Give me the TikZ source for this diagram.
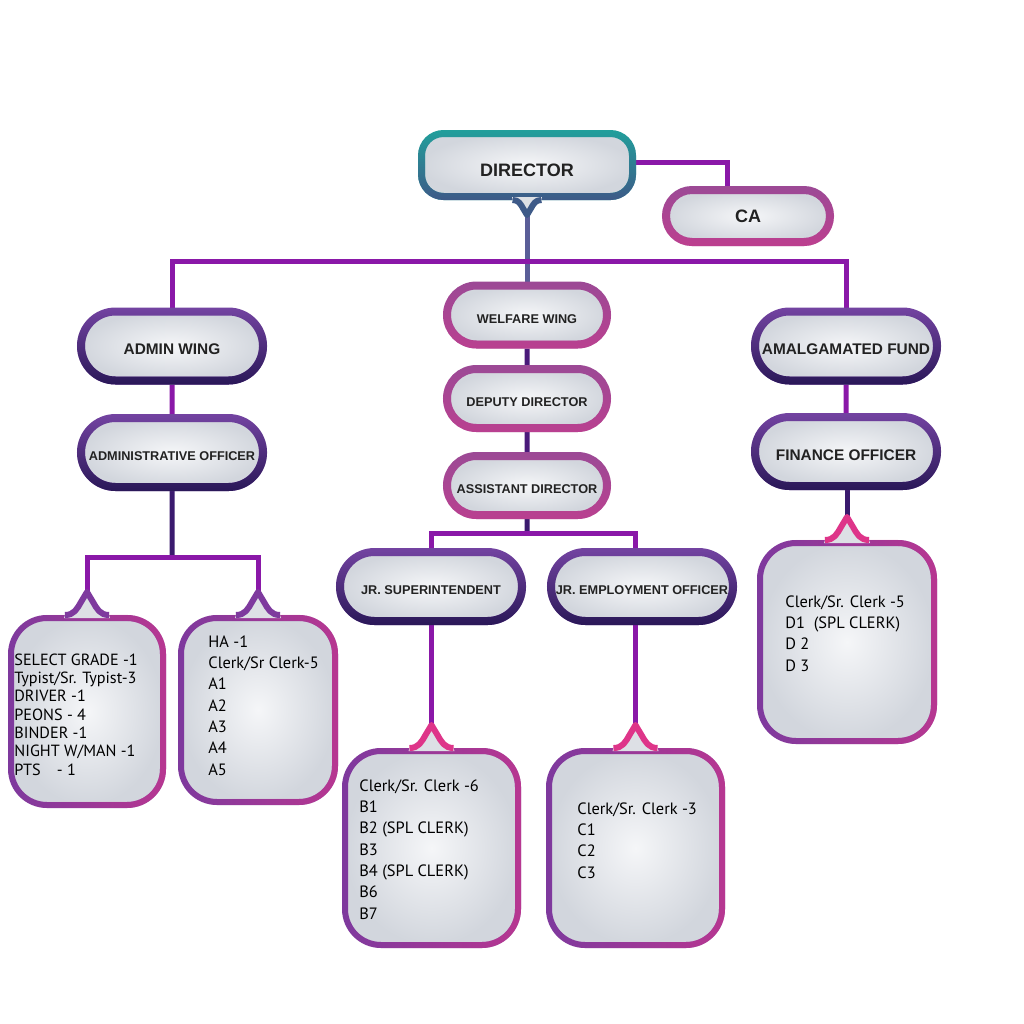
\documentclass[tikz,border=0pt]{standalone}
\usepackage{fontspec}
\setmainfont{Liberation Sans}
\newfontfamily\listfont{PT Sans}
\usetikzlibrary{positioning,calc,shapes.misc,shadows,fadings,backgrounds}

\definecolor{boxin}{HTML}{F5F6F8}
\definecolor{boxout}{HTML}{D2D6DD}
\definecolor{tipfill}{HTML}{DDE0E5}
\definecolor{tealtop}{HTML}{22A09C}
\definecolor{slatebot}{HTML}{3E5A88}
\definecolor{wingtop}{HTML}{7444A2}
\definecolor{wingbot}{HTML}{2A1858}
\definecolor{mauve}{HTML}{9C4A96}
\definecolor{pinkedge}{HTML}{DE3589}
\definecolor{memoc}{HTML}{7E3A9E}
\definecolor{linkp}{HTML}{8A18A8}
\definecolor{linkn}{HTML}{3A1A6E}
\definecolor{links}{HTML}{5A5E98}
\definecolor{ink}{HTML}{222222}

\tikzstyle{card} = [inner color=boxin, outer color=boxout, text=ink, inner sep=0pt, text depth=0pt,
  drop shadow={opacity=0.22, shadow xshift=0.6pt, shadow yshift=-1.2pt}]
\tikzstyle{chief} = [card, rectangle, rounded corners=11pt, draw=tealtop, line width=3.5pt,
  minimum width=105.5pt, minimum height=31.5pt, font=\bfseries\fontsize{9}{11}\selectfont,
  text height=11.4pt, postaction={draw=slatebot, line width=3.5pt, path fading=north}]
\tikzstyle{sidebox} = [card, rounded rectangle, draw=mauve, line width=4pt,
  minimum width=82pt, minimum height=26pt, font=\bfseries\fontsize{9}{11}\selectfont,
  postaction={draw=pinkedge, line width=4pt, path fading=north, opacity=0.5}]
\tikzstyle{wing} = [card, rounded rectangle, draw=wingtop, line width=4pt,
  minimum width=91pt, minimum height=34.5pt, font=\bfseries\fontsize{7.7}{9}\selectfont,
  text height=8.6pt, postaction={draw=wingbot, line width=4pt, path fading=north}]
\tikzstyle{subfont} = [font=\bfseries\fontsize{6.35}{8}\selectfont, text height=8.1pt]
\tikzstyle{welfare} = [card, rounded rectangle, draw=mauve, line width=4pt,
  minimum width=80pt, minimum height=29.5pt, subfont,
  postaction={draw=pinkedge, line width=4pt, path fading=north, opacity=0.45}]
\tikzstyle{memo} = [card, rectangle, rounded corners=18pt, draw=memoc, line width=3pt,
  postaction={draw=pinkedge, line width=3pt, path fading=west, opacity=0.6}]
\tikzstyle{roster} = [align=left, inner sep=0pt, text=black, font=\listfont\fontsize{8.2}{10.65}\selectfont]
\tikzstyle{link} = [draw=linkp, line width=2.5pt]

% little pointer on a box: node, anchor, direction (1 up, -1 down), colour, size
\newcommand{\memotip}[5]{%
  \fill[tipfill] ($(#1.#2)+({-23*#5},{3*#3})$) -- ($(#1.#2)+({-22*#5},0)$)
    .. controls ($(#1.#2)+({-13*#5},0)$) and ($(#1.#2)+({-10*#5},{-6*#3*#5})$) .. ($(#1.#2)+({-6*#5},{-13*#3*#5})$)
    -- ($(#1.#2)+(0,{-23*#3*#5})$) -- ($(#1.#2)+({6*#5},{-13*#3*#5})$)
    .. controls ($(#1.#2)+({10*#5},{-6*#3*#5})$) and ($(#1.#2)+({13*#5},0)$) .. ($(#1.#2)+({22*#5},0)$)
    -- ($(#1.#2)+({23*#5},{3*#3})$) -- cycle;
  \draw[draw=#4, line width=3pt, line join=round] ($(#1.#2)+({-22*#5},0)$)
    .. controls ($(#1.#2)+({-13*#5},0)$) and ($(#1.#2)+({-10*#5},{-6*#3*#5})$) .. ($(#1.#2)+({-6*#5},{-13*#3*#5})$)
    -- ($(#1.#2)+(0,{-23*#3*#5})$) -- ($(#1.#2)+({6*#5},{-13*#3*#5})$)
    .. controls ($(#1.#2)+({10*#5},{-6*#3*#5})$) and ($(#1.#2)+({13*#5},0)$) .. ($(#1.#2)+({22*#5},0)$);
  \coordinate (#1-tip) at ($(#1.#2)+(0,{-23*#3*#5})$);}

\begin{document}
\begin{tikzpicture}[x=0.5pt,y=-0.5pt]
  \useasboundingbox (0,0) rectangle (1024,1024);

  % top
  \node[chief] (dir) at (527,165) {DIRECTOR};
  \node[sidebox] (ca) at (748,216) {CA};

  % wings
  \node[wing] (aw) at (172,346) {ADMIN WING};
  \node[welfare] (ww) at (527,315) {WELFARE WING};
  \node[wing] (af) at (846,346) {AMALGAMATED FUND};

  % officers
  \node[wing, subfont] (ao) at (172,452.5) {ADMINISTRATIVE OFFICER};
  \node[welfare] (dd) at (527,398.5) {DEPUTY DIRECTOR};
  \node[welfare] (ad) at (527,485.5) {ASSISTANT DIRECTOR};
  \node[wing] (fo) at (846,451.5) {FINANCE OFFICER};
  \node[wing, subfont] (js) at (431,586.5) {JR. SUPERINTENDENT};
  \node[wing, subfont] (je) at (642,586.5) {JR. EMPLOYMENT OFFICER};

  % staff boxes
  \node[memo, minimum width=76pt, minimum height=93.5pt] (sel) at (87,711.5) {};
  \node[memo, minimum width=77pt, minimum height=92pt] (ha) at (258,710) {};
  \node[memo, minimum width=86.5pt, minimum height=97pt] (sup) at (431.5,848) {};
  \node[memo, minimum width=86.5pt, minimum height=97pt] (emp) at (635.5,848) {};
  \node[memo, minimum width=87pt, minimum height=99pt] (fin) at (847,642) {};

  \memotip{dir}{south}{-1}{slatebot}{0.65}
  \memotip{sel}{north}{1}{memoc}{1}
  \memotip{ha}{north}{1}{memoc}{1}
  \memotip{sup}{north}{1}{pinkedge}{1}
  \memotip{emp}{north}{1}{pinkedge}{1}
  \memotip{fin}{north}{1}{pinkedge}{1}

  \node[roster, anchor=west, font=\listfont\fontsize{8.1}{9.15}\selectfont] (selt) at (14,714.5)
    {SELECT GRADE -1\\Typist/Sr. Typist-3\\DRIVER -1\\PEONS - 4\\BINDER -1\\NIGHT W/MAN -1\\PTS\quad - 1};
  \node[roster, anchor=west] (hat) at (208,705.5)
    {HA -1\\Clerk/Sr Clerk-5\\A1\\A2\\A3\\A4\\A5};
  \node[roster, anchor=west] (supt) at (359,849.5)
    {Clerk/Sr. Clerk -6\\B1\\B2 (SPL CLERK)\\B3\\B4 (SPL CLERK)\\B6\\B7};
  \node[roster, anchor=west] (empt) at (577,840.5)
    {Clerk/Sr. Clerk -3\\C1\\C2\\C3};
  \node[roster, anchor=west] (fint) at (785,633.5)
    {Clerk/Sr. Clerk -5\\D1~ (SPL CLERK)\\D 2\\D 3};

  \begin{scope}[on background layer]
    \fill[white] (0,0) rectangle (1024,1024);
    \coordinate (hub) at (527,261);
    \coordinate (hubao) at (172,557);
    \coordinate (hubad) at (527,533);
    \draw[link] ([yshift=1.5pt]dir.east) -| ([xshift=-10.5pt]ca.north);
    \draw[link, draw=links] (dir-tip) -- (ww.north);
    \draw[link] (aw.north) |- (hub) -| (af.north);
    \draw[link] (aw) -- (ao);
    \draw[link, draw=linkn] (ao) -- (hubao);
    \draw[link] (sel-tip) |- (hubao) -| (ha-tip);
    \draw[link, draw=linkn!80!linkp] (ww) -- (dd) -- (ad);
    \draw[link, draw=linkn] (ad) -- (hubad);
    \draw[link] (sup-tip) |- (hubad) -| (emp-tip);
    \draw[link] (af) -- (fo);
    \draw[link, draw=linkn] (fin-tip) -- (fin-tip |- fo.center);
  \end{scope}
\end{tikzpicture}
\end{document}
